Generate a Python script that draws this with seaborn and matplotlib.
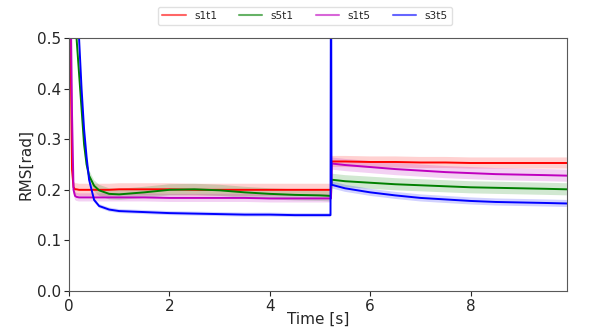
import matplotlib
matplotlib.use("Agg")
import matplotlib.pyplot as plt
from matplotlib.lines import Line2D
import seaborn as sns
import pandas as pd
import numpy as np

sns.set_style("ticks")

# time samples [s]
time = [0, 0.03, 0.06, 0.09, 0.12, 0.15, 0.2, 0.25, 0.3, 0.35, 0.4, 0.5, 0.6,
        0.8, 1.0, 1.5, 2.0, 2.5, 3.0, 3.5, 4.0, 4.5, 5.0, 5.21, 5.22, 5.23,
        5.5, 6.0, 6.5, 7.0, 7.5, 8.0, 8.5, 9.0, 9.5, 9.92]

s1t1 = [0.9, 0.5, 0.24, 0.205, 0.201, 0.201, 0.2, 0.2, 0.2, 0.2, 0.2, 0.2, 0.2,
        0.2, 0.201, 0.201, 0.201, 0.2, 0.2, 0.2, 0.2, 0.2, 0.2, 0.2, 0.2, 0.256,
        0.256, 0.255, 0.255, 0.254, 0.254, 0.253, 0.253, 0.253, 0.253, 0.253]
s5t1 = [0.9, 0.85, 0.75, 0.65, 0.56, 0.5, 0.43, 0.36, 0.29, 0.25, 0.228, 0.208, 0.199,
        0.192, 0.191, 0.195, 0.2, 0.201, 0.199, 0.195, 0.192, 0.19, 0.189, 0.188, 0.188, 0.22,
        0.217, 0.214, 0.211, 0.209, 0.207, 0.205, 0.204, 0.203, 0.202, 0.201]
s1t5 = [0.9, 0.6, 0.35, 0.2, 0.188, 0.186, 0.185, 0.185, 0.185, 0.185, 0.185, 0.185, 0.185,
        0.185, 0.185, 0.185, 0.184, 0.184, 0.184, 0.184, 0.183, 0.183, 0.183, 0.183, 0.183, 0.252,
        0.249, 0.245, 0.241, 0.238, 0.235, 0.233, 0.231, 0.23, 0.229, 0.228]
s3t5 = [1.2, 1.1, 1.0, 0.9, 0.78, 0.65, 0.5, 0.4, 0.32, 0.265, 0.22, 0.18, 0.168,
        0.161, 0.158, 0.156, 0.154, 0.153, 0.152, 0.151, 0.151, 0.15, 0.15, 0.15, 0.75, 0.21,
        0.203, 0.195, 0.189, 0.184, 0.181, 0.178, 0.176, 0.175, 0.174, 0.173]

labels = ["s1t1", "s5t1", "s1t5", "s3t5"]
colors = ["red", "green", "m", "blue"]
# half-width of the shaded band before / after the switch at 5.22 s
band_pre = [0.012, 0.011, 0.008, 0.004]
band_post = [0.011, 0.012, 0.012, 0.007]
switch_t = 5.225

series = [s1t1, s5t1, s1t5, s3t5]
df = pd.concat(
    [pd.DataFrame({"Time": time, "RMS": v, "run": lab}) for lab, v in zip(labels, series)],
    ignore_index=True,
)

fig = plt.figure(figsize=(5.98, 3.27), dpi=100)
ax = fig.add_axes([0.1154, 0.110, 0.8326, 0.7738])

t = np.array(time)
for v, c, bp, bq in zip(series, colors, band_pre, band_post):
    v = np.array(v)
    half = np.where(t < switch_t, bp, bq)
    ax.fill_between(t, v - half, v + half, color=c, alpha=0.18, linewidth=0)

sns.lineplot(data=df, x="Time", y="RMS", hue="run", palette=colors,
             linewidth=1.4, legend=False, ax=ax)

ax.set_xlim(0, 9.92)
ax.set_ylim(0, 0.5)
ax.set_xticks([0, 2, 4, 6, 8])
ax.set_yticks([0.0, 0.1, 0.2, 0.3, 0.4, 0.5])
ax.tick_params(labelsize=11, pad=2)
ax.set_xlabel("Time [s]", fontsize=11, labelpad=-1.5)
ax.set_ylabel("RMS[rad]", fontsize=11, labelpad=3)
for side in ["top", "right"]:
    ax.spines[side].set_visible(True)
for sp in ax.spines.values():
    sp.set_color("0.35")

handles = [Line2D([0], [0], color=c, alpha=0.6, linewidth=1.5) for c in colors]
fig.legend(handles, labels, loc="upper center", bbox_to_anchor=(0.51, 0.995),
           ncol=4, fontsize=7.6, frameon=True, edgecolor="0.85",
           handlelength=2.2, columnspacing=2.1, handletextpad=0.8)

fig.savefig("out.png", dpi=100)
